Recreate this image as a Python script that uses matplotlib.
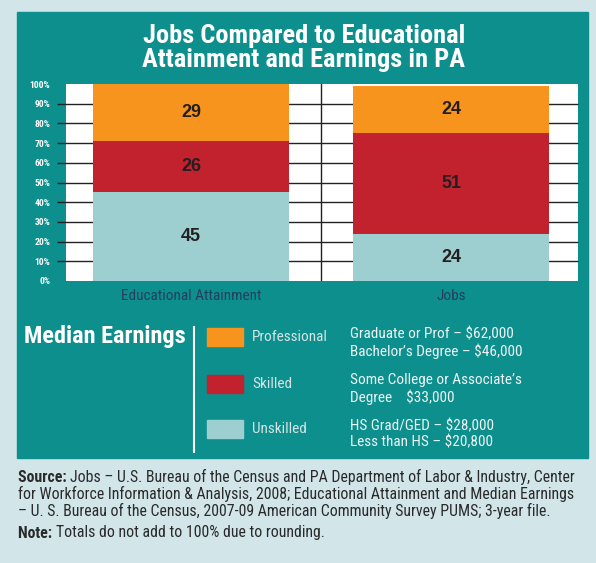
import matplotlib
matplotlib.use('Agg')
import matplotlib.pyplot as plt
from matplotlib import font_manager
from matplotlib.patches import Rectangle

# data
groups = ['Educational Attainment', 'Jobs']
levels = ['Unskilled', 'Skilled', 'Professional']
unskilled = [45, 24]
skilled = [26, 51]
professional = [29, 24]
ytick_vals = [0, 10, 20, 30, 40, 50, 60, 70, 80, 90, 100]
ytick_labels = ['0%', '10%', '20%', '30%', '40%', '50%', '60%', '70%', '80%', '90%', '100%']
legend_labels = ['Professional', 'Skilled', 'Unskilled']
legend_notes = ['Graduate or Prof \u2013 $62,000\nBachelor\u2019s Degree \u2013 $46,000',
                'Some College or Associate\u2019s\nDegree    $33,000',
                'HS Grad/GED \u2013 $28,000\nLess than HS \u2013 $20,800']

TEAL = '#0c8f8d'
LIGHT = '#d2e6e9'
ORANGE = '#f7941d'
RED = '#c1222e'
PALE = '#9dcfd0'
colors = [PALE, RED, ORANGE]

names = {f.name for f in font_manager.fontManager.ttflist}
narrow = next((n for n in ['Liberation Sans Narrow', 'DejaVu Sans Condensed', 'Roboto Condensed'] if n in names), None)
if narrow:
    NF = dict(family=narrow)
    k = 1.0
else:
    NF = dict(family='DejaVu Sans', stretch='condensed')
    k = 0.85

W, H = 596, 563
fig = plt.figure(figsize=(W / 100, H / 100), dpi=100, facecolor=LIGHT)


def fx(x):
    return x / W


def fy(y):
    return 1 - y / H


# teal panel
fig.patches.append(Rectangle((fx(17), fy(458)), (588 - 17) / W, (458 - 12) / H,
                             transform=fig.transFigure, color=TEAL, zorder=-5))

fig.text(fx(304), fy(48), 'Jobs Compared to Educational\nAttainment and Earnings in PA',
         ha='center', va='center', color='white', fontsize=19 * k, fontweight='bold',
         linespacing=1.0, **NF)

ax = fig.add_axes([fx(66), fy(281), 512 / W, 197 / H])
ax.set_zorder(2)
ax.set_facecolor('white')
for s in ax.spines.values():
    s.set_visible(False)

x = [0, 1]
bottoms = [0, 0]
for vals, c in zip([unskilled, skilled, professional], colors):
    ax.bar(x, vals, width=0.754, bottom=bottoms, color=c, zorder=2)
    for i in range(2):
        ax.text(x[i], bottoms[i] + vals[i] / 2, str(vals[i]), ha='center', va='center',
                fontsize=13, fontweight='bold', color='#231f20', family='Liberation Sans', zorder=3)
    bottoms = [b + v for b, v in zip(bottoms, vals)]

ax.hlines(ytick_vals[1:-1], -0.018, 1, transform=ax.get_yaxis_transform(),
          colors='#222222', lw=1, zorder=1, clip_on=False)
ax.axvline(0.5, color='#222222', lw=1, zorder=1)

ax.set_xlim(-0.4808, 1.4885)
ax.set_ylim(0, 100)
ax.set_yticks(ytick_vals)
ax.set_yticklabels(ytick_labels, color='white', fontsize=6.8, fontweight='bold', **NF)
ax.set_xticks(x)
ax.set_xticklabels(groups, color='#22405e', fontsize=11 * k, **NF)
ax.tick_params(axis='y', length=0, pad=11.5)
ax.tick_params(axis='x', length=0, pad=6)

# legend area
fig.text(fx(24), fy(337), 'Median Earnings', ha='left', va='center', color='white',
         fontsize=17.5 * k, fontweight='bold', **NF)
fig.add_artist(plt.Line2D([fx(194), fx(194)], [fy(327), fy(452)], color='white', lw=1.5))
sw_y = [337, 384, 429]
note_y = [343, 389, 434]
for lab, note, c, y, ny in zip(legend_labels, legend_notes, [ORANGE, RED, PALE], sw_y, note_y):
    fig.patches.append(Rectangle((fx(207), fy(y + 9)), 36 / W, 18 / H,
                                 transform=fig.transFigure, color=c, zorder=1))
    fig.text(fx(252), fy(y), lab, ha='left', va='center', color='#d5e4e4', fontsize=11 * k, **NF)
    fig.text(fx(350), fy(ny), note, ha='left', va='center', color='#eef5f5', fontsize=11 * k,
             linespacing=1.2, **NF)

# footer
src_rest = ['Jobs \u2013 U.S. Bureau of the Census and PA Department of Labor & Industry, Center',
            'for Workforce Information & Analysis, 2008; Educational Attainment and Median Earnings',
            '\u2013 U. S. Bureau of the Census, 2007-09 American Community Survey PUMS; 3-year file.']
fs = 11.4 * k
r = fig.canvas.get_renderer()
t = fig.text(fx(18), fy(477), 'Source: ', ha='left', va='center', color='#2a2a2a',
             fontsize=fs, fontweight='bold', **NF)
bb = t.get_window_extent(r)
fig.text(bb.x1 / W, fy(477), src_rest[0], ha='left', va='center', color='#2a2a2a', fontsize=fs, **NF)
fig.text(fx(18), fy(494), src_rest[1], ha='left', va='center', color='#2a2a2a', fontsize=fs, **NF)
fig.text(fx(18), fy(511), src_rest[2], ha='left', va='center', color='#2a2a2a', fontsize=fs, **NF)
t = fig.text(fx(18), fy(533), 'Note: ', ha='left', va='center', color='#2a2a2a',
             fontsize=fs, fontweight='bold', **NF)
bb = t.get_window_extent(r)
fig.text(bb.x1 / W, fy(533), 'Totals do not add to 100% due to rounding.', ha='left', va='center',
         color='#2a2a2a', fontsize=fs, **NF)

fig.savefig('out.png', dpi=100, facecolor=LIGHT)
